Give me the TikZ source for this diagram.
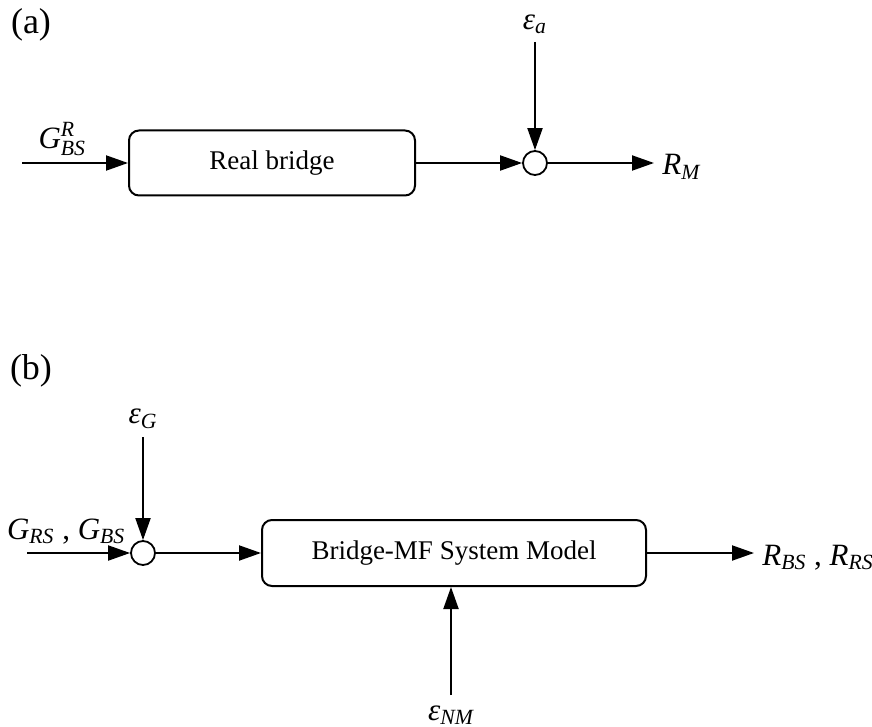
\documentclass[tikz,border=0pt]{standalone}
\usepackage{amsmath}
\usepackage{fontspec}
\setmainfont{Liberation Serif}
\usetikzlibrary{arrows.meta,positioning}

\tikzset{
  block/.style={draw,line width=1pt,rounded corners=5pt,minimum width=143pt,
    minimum height=32.5pt,font=\fontsize{13.5}{16}\selectfont},
  sum/.style={draw,circle,line width=0.9pt,minimum size=12pt,inner sep=0pt},
  sig/.style={-{Triangle[length=11pt,width=7.5pt]},line width=1pt},
  lbl/.style={inner sep=1pt,font=\fontsize{15.5}{18}\selectfont},
  panel/.style={inner sep=0pt,font=\fontsize{18}{21}\selectfont},
}

\begin{document}
\begin{tikzpicture}[x=0.5pt,y=-0.5pt]
  \useasboundingbox (0,0) rectangle (872,727);

  % (a) measured response of the real bridge
  \node[panel] (capa) at (31,25) {(a)};
  \node[block] (real) at (272,163) {Real bridge};
  \node[sum] (suma) at (535,163) {};
  \coordinate (ina) at (22,163);
  \node[lbl] (ea) at (535,24) {$\textit{ε}_{\textit{a}}$};
  \node[lbl,anchor=base west] (rm) at (660,175) {$\textit{R}_{\textit{M}}$};
  \draw[sig] (ina) -- node[lbl,above=2pt,pos=0.38] {$\textit{G}^{\textit{R}}_{\textit{BS}}$} (real);
  \draw[sig] (real) -- (suma);
  \draw[sig,shorten <=3pt] (ea) -- (suma);
  \draw[sig,shorten >=3pt] (suma) -- (suma -| rm.west);

  % (b) bridge-MF system model
  \node[panel] (capb) at (31,371) {(b)};
  \node[sum] (sumb) at (143,553) {};
  \node[block,minimum width=192pt,minimum height=33pt] (model) at (454,553) {Bridge-MF System Model};
  \coordinate (inb) at (27,553);
  \node[lbl] (eg) at (143,419) {$\textit{ε}_{\textit{G}}$};
  \node[lbl] (enm) at (451,715) {$\textit{ε}_{\textit{NM}}$};
  \node[lbl,anchor=base west] (rbs) at (760,565) {$\textit{R}_{\textit{BS}}$ , $\textit{R}_{\textit{RS}}$};
  \draw[sig] (inb) -- node[lbl,above=3pt,pos=0.38] {$\textit{G}_{\textit{RS}}$ , $\textit{G}_{\textit{BS}}$} (sumb);
  \draw[sig,shorten <=3pt] (eg) -- (sumb);
  \draw[sig] (sumb) -- (model);
  \draw[sig,shorten >=3pt] (model) -- (model -| rbs.west);
  \draw[sig,shorten <=4pt] (enm) -- (enm |- model.south);
\end{tikzpicture}
\end{document}
